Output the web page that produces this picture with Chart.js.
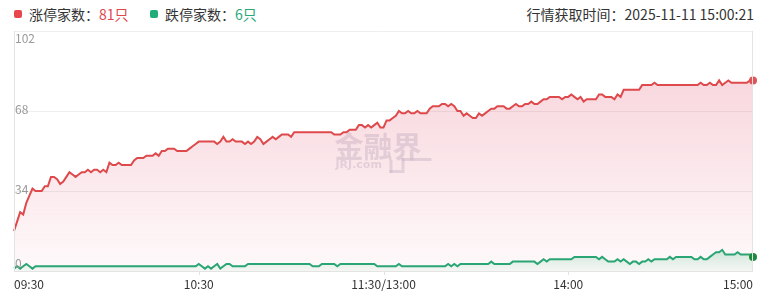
<!DOCTYPE html>
<html>
<head>
<meta charset="utf-8">
<script src="https://cdn.jsdelivr.net/npm/chart.js@4/dist/chart.umd.min.js"></script>
<style>
    html, body { margin: 0; padding: 0; background: #fff; }
    body { width: 774px; height: 307px; position: relative; overflow: hidden; font-family: "Noto Sans CJK SC", "Noto Sans", sans-serif; }
    #chart { position: absolute; left: 0; top: 0; }
    .head { position: absolute; top: 6px; font-size: 14px; line-height: 16px; color: #333; white-space: nowrap; }
    .sq { position: absolute; top: 10px; width: 8px; height: 8px; border-radius: 2px; }
</style>
</head>
<body>
<span class="sq" style="left:14px;background:#e8484d"></span>
<div class="head" style="left:29px">涨停家数：<span style="color:#e0474c">81只</span></div>
<span class="sq" style="left:150px;background:#1fae77"></span>
<div class="head" style="left:165px">跌停家数：<span style="color:#2aa87a">6只</span></div>
<div class="head" style="right:20px">行情获取时间：2025-11-11 15:00:21</div>
<canvas id="chart" width="774" height="307"></canvas>
<script>
// Данные:涨停 / 跌停, по минутам 09:30–11:30, 13:01–15:00
const upCounts = [
    17,21,25,24,29,32,35,34,34,34,
    36,36,40,40,39,37,38,40,42,41,
    40,41,42,42,43,42,43,43,42,43,
    42,46,45,45,46,45,45,45,45,47,
    48,48,48,49,49,49,50,49,51,51,
    52,52,52,51,51,51,51,52,53,54,
    55,55,55,55,55,55,54,55,57,55,
    55,56,55,55,55,54,55,54,55,57,
    56,54,55,56,57,56,57,58,58,58,
    57,59,59,59,59,59,59,59,59,59,
    59,59,59,59,58,58,58,59,59,60,
    60,60,62,62,61,62,61,62,63,61,
    61,64,64,65,66,68,67,67,68,67,
    67,68,67,67,67,69,70,70,70,71,
    71,70,71,70,68,68,66,67,66,65,
    65,67,66,67,68,69,69,70,70,70,
    69,69,70,71,70,70,71,71,72,71,
    71,72,73,73,74,74,74,74,73,74,
    74,75,74,73,74,72,73,73,73,73,
    75,75,74,74,74,73,75,74,77,77,
    77,77,77,77,79,79,79,79,80,79,
    79,79,79,79,79,79,79,79,79,79,
    79,79,79,80,79,79,80,79,79,81,
    79,80,81,80,80,80,80,80,80,81,
    81
];
const downCounts = [
    1,2,1,2,3,2,1,2,2,2,
    2,2,2,2,2,2,2,2,2,2,
    2,2,2,2,2,2,2,2,2,2,
    2,2,2,2,2,2,2,2,2,2,
    2,2,2,2,2,2,2,2,2,2,
    2,2,2,2,2,2,2,2,2,2,
    3,2,1,2,1,2,3,1,2,3,
    3,2,2,2,2,2,3,3,3,3,
    3,3,3,3,3,3,3,3,3,3,
    3,3,3,3,3,3,3,2,2,2,
    3,3,3,3,3,2,3,3,3,3,
    3,3,3,3,3,3,3,3,2,2,
    2,2,2,2,2,3,2,2,2,2,
    2,2,2,2,2,2,2,2,2,2,
    2,3,2,3,2,3,3,3,3,3,
    3,3,3,3,3,4,3,3,3,3,
    3,3,4,4,4,4,4,4,4,4,
    3,4,5,4,5,5,5,5,5,5,
    5,5,6,6,6,6,6,6,6,6,
    5,6,5,4,4,4,5,4,5,4,
    3,4,4,3,4,4,5,4,5,5,
    5,5,5,6,5,6,6,6,6,6,
    6,5,5,6,5,5,6,7,8,8,
    9,7,7,7,7,8,7,7,7,7,
    6
];
const yTicks = [0, 34, 68, 102];
const xTickIndex = [0, 60, 120, 180, 240];
const xTickLabels = ['09:30', '10:30', '11:30/13:00', '14:00', '15:00'];

// Подписи времени по минутам
function pad(n) { return (n < 10 ? '0' : '') + n; }
const minutes = [];
for (let i = 0; i <= 240; i++) {
    let t = i <= 120 ? 9 * 60 + 30 + i : 13 * 60 + (i - 120);
    minutes.push(pad(Math.floor(t / 60)) + ':' + pad(t % 60));
}

const lastIdx = upCounts.length - 1;
const fontName = '"Noto Sans CJK SC", "Noto Sans", sans-serif';

// Рамка, подписи осей и водяной знак
const axisPlugin = {
    id: 'axisPlugin',
    beforeDatasetsDraw(chart) {
        const { ctx, chartArea } = chart;
        const cx = (chartArea.left + chartArea.right) / 2;
        ctx.save();
        ctx.fillStyle = 'rgba(200,200,214,0.5)';
        ctx.textAlign = 'left';
        ctx.textBaseline = 'middle';
        ctx.font = 'bold 29px ' + fontName;
        ctx.fillText('金融界', cx - 49, 147);
        ctx.font = 'bold 11px "DejaVu Sans", sans-serif';
        ctx.fillText('JRJ.com', cx - 48, 165);
        ctx.fillRect(cx + 6, 160, 3, 13);
        ctx.fillRect(cx + 6, 170, 12, 3);
        ctx.fillRect(cx + 18, 158, 3, 15);
        ctx.fillRect(cx + 18, 158, 30, 3);
        ctx.restore();
    },
    afterDraw(chart) {
        const { ctx, chartArea } = chart;
        const ys = chart.scales.y, xs = chart.scales.x;
        ctx.save();
        ctx.strokeStyle = '#e3e3e3';
        ctx.lineWidth = 1;
        ctx.beginPath();
        ctx.moveTo(chartArea.left + 0.5, chartArea.top);
        ctx.lineTo(chartArea.left + 0.5, chartArea.bottom);
        ctx.moveTo(chartArea.right - 0.5, chartArea.top);
        ctx.lineTo(chartArea.right - 0.5, chartArea.bottom);
        ctx.moveTo(chartArea.left, chartArea.bottom + 0.5);
        ctx.lineTo(chartArea.right, chartArea.bottom + 0.5);
        xTickIndex.slice(1, -1).forEach(i => {
            const px = Math.round(xs.getPixelForValue(i)) + 0.5;
            ctx.moveTo(px, chartArea.bottom);
            ctx.lineTo(px, chartArea.bottom + 4);
        });
        ctx.stroke();

        ctx.font = '12px ' + fontName;
        ctx.fillStyle = '#999';
        ctx.textAlign = 'left';
        yTicks.forEach(v => {
            const py = ys.getPixelForValue(v);
            if (v === yTicks[yTicks.length - 1]) {
                ctx.textBaseline = 'top';
                ctx.fillText(String(v), chartArea.left + 1, py + 1);
            } else if (v === yTicks[0]) {
                ctx.textBaseline = 'bottom';
                ctx.fillText(String(v), chartArea.left + 1, py - 2);
            } else {
                ctx.textBaseline = 'middle';
                ctx.fillText(String(v), chartArea.left + 1, py - 2);
            }
        });

        ctx.fillStyle = '#333';
        ctx.textBaseline = 'middle';
        xTickIndex.forEach((i, k) => {
            const px = xs.getPixelForValue(i);
            ctx.textAlign = k === 0 ? 'left' : (k === xTickIndex.length - 1 ? 'right' : 'center');
            ctx.fillText(xTickLabels[k], px, chartArea.bottom + 13);
        });
        ctx.restore();
    }
};

function upFill(context) {
    const area = context.chart.chartArea;
    if (!area) return 'rgba(225,80,100,0.15)';
    const g = context.chart.ctx.createLinearGradient(0, area.top, 0, area.bottom);
    g.addColorStop(0, 'rgba(222,70,100,0.26)');
    g.addColorStop(1, 'rgba(222,70,100,0.03)');
    return g;
}

function downFill(context) {
    const chart = context.chart;
    const area = chart.chartArea;
    if (!area) return 'rgba(40,170,110,0.15)';
    const top = chart.scales.y.getPixelForValue(Math.max(...downCounts));
    const g = chart.ctx.createLinearGradient(0, top, 0, area.bottom);
    g.addColorStop(0, 'rgba(40,175,110,0.22)');
    g.addColorStop(1, 'rgba(40,175,110,0.04)');
    return g;
}

new Chart(document.getElementById('chart'), {
    type: 'line',
    data: {
        labels: minutes,
        datasets: [{
            label: '跌停家数',
            data: downCounts,
            borderColor: '#2aa574',
            borderWidth: 2,
            backgroundColor: downFill,
            fill: 'origin',
            tension: 0,
            pointRadius: ctx => ctx.dataIndex === lastIdx ? 4 : 0,
            pointBackgroundColor: '#1f8a3e',
            pointBorderWidth: 0,
            order: 0
        }, {
            label: '涨停家数',
            data: upCounts,
            borderColor: '#de4a4b',
            borderWidth: 2,
            backgroundColor: upFill,
            fill: 'origin',
            tension: 0,
            pointRadius: ctx => ctx.dataIndex === lastIdx ? 4 : 0,
            pointBackgroundColor: '#e05358',
            pointBorderWidth: 0,
            order: 1
        }]
    },
    options: {
        responsive: false,
        animation: false,
        layout: { padding: { left: 14, right: 21, top: 31, bottom: 36 } },
        plugins: {
            legend: { display: false },
            tooltip: { enabled: false }
        },
        scales: {
            x: {
                type: 'category',
                display: false,
                offset: false
            },
            y: {
                min: 0,
                max: 102,
                afterBuildTicks: axis => { axis.ticks = yTicks.map(v => ({ value: v })); },
                grid: { color: '#eeeeee', drawTicks: false },
                border: { display: false },
                ticks: { display: false }
            }
        }
    },
    plugins: [axisPlugin]
});
</script>
</body>
</html>
